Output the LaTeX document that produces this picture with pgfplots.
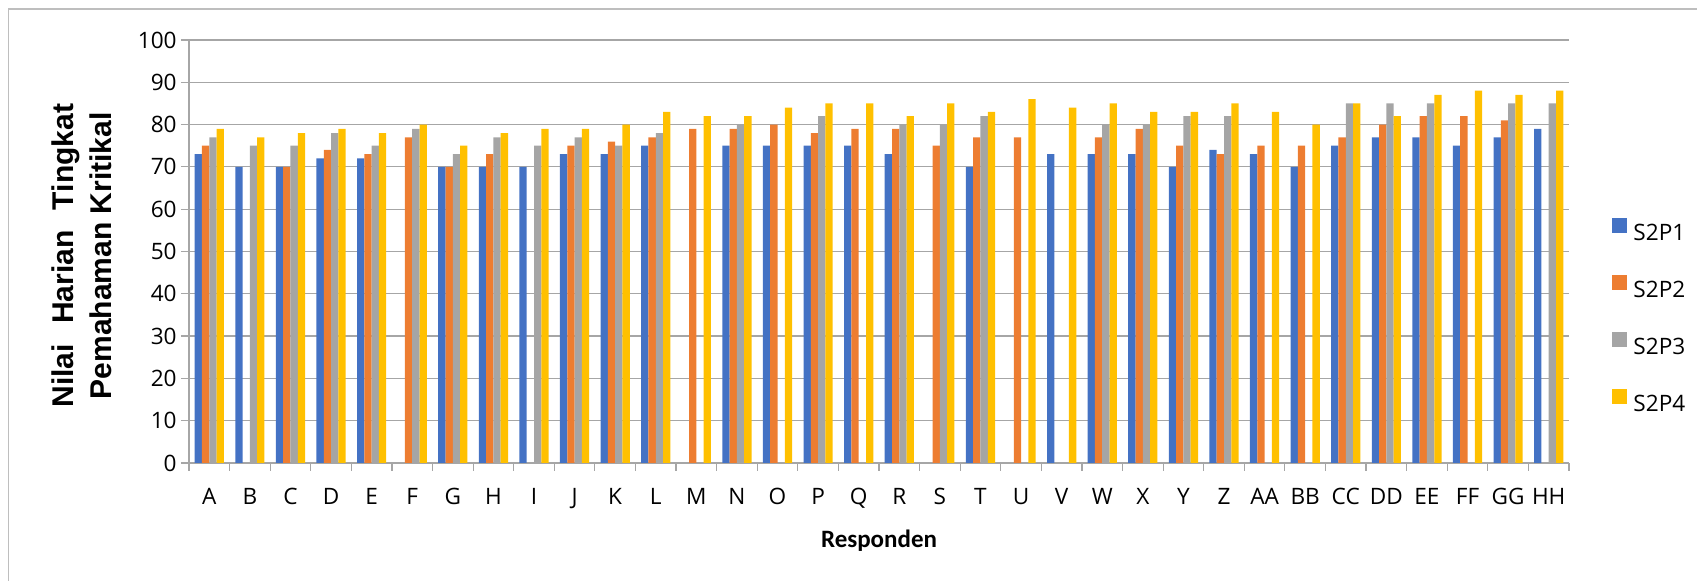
\documentclass[border=0pt]{standalone}
\usepackage{fontspec}
\setmainfont{Open Sans}
\newfontfamily\calb{Carlito}
\newfontfamily\arialb{Liberation Sans}
\usepackage{pgfplots}
\pgfplotsset{compat=1.18}
\definecolor{cA}{HTML}{4472C4}
\definecolor{cB}{HTML}{ED7D31}
\definecolor{cC}{HTML}{A5A5A5}
\definecolor{cD}{HTML}{FFC000}
\definecolor{gridc}{RGB}{166,166,166}
\definecolor{framec}{RGB}{190,190,190}
\begin{document}
\begin{tikzpicture}
\path[use as bounding box] (0,0) rectangle (848.5pt,290.5pt);
\draw[framec, line width=0.6pt] (4.2pt,-2pt) -- (4.2pt,286pt) -- (850pt,286pt);
\begin{axis}[
  at={(94.5pt,59pt)}, anchor=south west,
  scale only axis, width=690pt, height=211.5pt,
  ybar=0pt, bar width=3.65pt,
  xmin=-0.5, xmax=33.5, ymin=0, ymax=100,
  axis x line*=bottom, axis y line*=left,
  axis line style={draw=gridc, line width=0.6pt},
  xtick={0,...,33},
  xticklabels={A,B,C,D,E,F,G,H,I,J,K,L,M,N,O,P,Q,R,S,T,U,V,W,X,Y,Z,AA,BB,CC,DD,EE,FF,GG,HH},
  minor xtick={-0.5,0.5,...,33.5},
  ytick={0,10,...,100},
  tick align=outside,
  major tick length=4pt, minor tick length=4pt,
  major x tick style={draw=none},
  minor x tick style={draw=gridc, line width=0.6pt},
  major y tick style={draw=gridc, line width=0.6pt},
  ymajorgrids, grid style={draw=gridc, line width=0.6pt},
  /pgf/number format/assume math mode=true,
  tick label style={font=\fontsize{11.3}{13}\selectfont, inner sep=0pt},
  yticklabel style={xshift=-2pt},
  xticklabel style={yshift=-8.5pt},
  xlabel={Responden},
  xlabel style={font=\calb\bfseries\fontsize{12.5}{14}\selectfont, at={(axis description cs:0.5,0)}, anchor=center, yshift=-39pt},
  ylabel={Nilai\hspace{6pt} Harian\hspace{6pt} Tingkat\\Pemahaman Kritikal},
  ylabel style={font=\arialb\bfseries\fontsize{15}{19}\selectfont, align=center, at={(axis description cs:-0.0775,0.49)}, anchor=center},
  legend style={at={(1.0312,0.579)}, anchor=north west, draw=none, fill=none, inner sep=0pt, row sep=16pt, column sep=3pt, font=\fontsize{11.3}{13}\selectfont, nodes={inner sep=0pt}},
  legend cell align=left,
  legend image code/.code={\fill[#1,draw=none] (0pt,0.15pt) rectangle (7.5pt,7.65pt);},
]
\addplot[fill=cA, draw=none] coordinates {(0,73)(1,70)(2,70)(3,72)(4,72)(6,70)(7,70)(8,70)(9,73)(10,73)(11,75)(13,75)(14,75)(15,75)(16,75)(17,73)(19,70)(21,73)(22,73)(23,73)(24,70)(25,74)(26,73)(27,70)(28,75)(29,77)(30,77)(31,75)(32,77)(33,79)};
\addplot[fill=cB, draw=none] coordinates {(0,75)(2,70)(3,74)(4,73)(5,77)(6,70)(7,73)(9,75)(10,76)(11,77)(12,79)(13,79)(14,80)(15,78)(16,79)(17,79)(18,75)(19,77)(20,77)(22,77)(23,79)(24,75)(25,73)(26,75)(27,75)(28,77)(29,80)(30,82)(31,82)(32,81)};
\addplot[fill=cC, draw=none] coordinates {(0,77)(1,75)(2,75)(3,78)(4,75)(5,79)(6,73)(7,77)(8,75)(9,77)(10,75)(11,78)(13,80)(15,82)(17,80)(18,80)(19,82)(22,80)(23,80)(24,82)(25,82)(28,85)(29,85)(30,85)(32,85)(33,85)};
\addplot[fill=cD, draw=none] coordinates {(0,79)(1,77)(2,78)(3,79)(4,78)(5,80)(6,75)(7,78)(8,79)(9,79)(10,80)(11,83)(12,82)(13,82)(14,84)(15,85)(16,85)(17,82)(18,85)(19,83)(20,86)(21,84)(22,85)(23,83)(24,83)(25,85)(26,83)(27,80)(28,85)(29,82)(30,87)(31,88)(32,87)(33,88)};
\legend{S2P1,S2P2,S2P3,S2P4}
\end{axis}
\end{tikzpicture}
\end{document}
